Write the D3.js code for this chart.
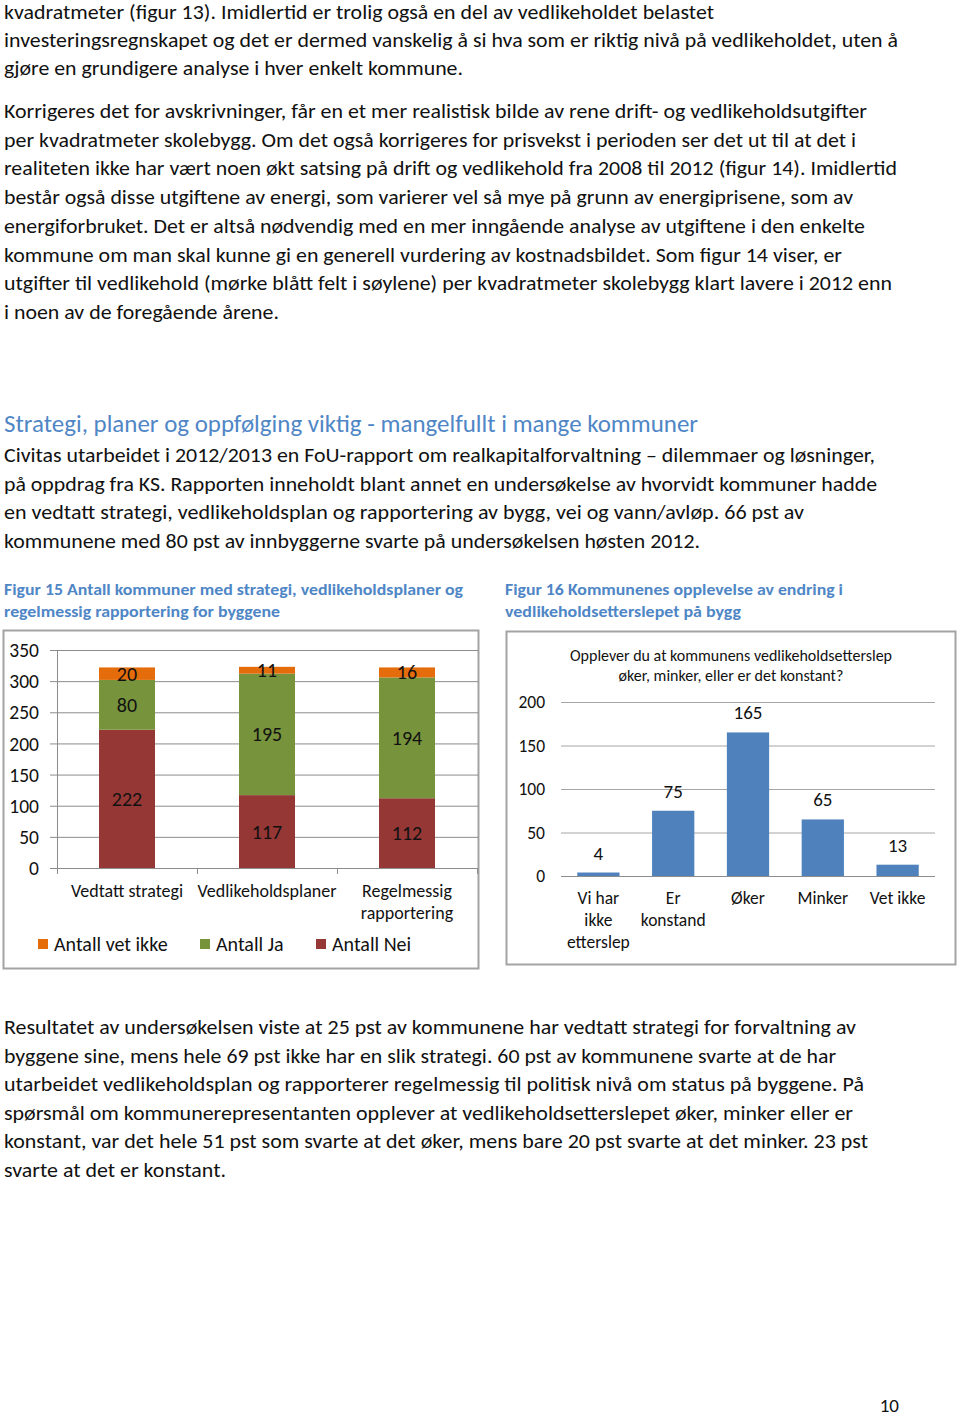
<!DOCTYPE html>
<html>
<head>
<meta charset="utf-8">
<script src="https://cdn.jsdelivr.net/npm/d3@7"></script>
<style>
  html, body { margin: 0; padding: 0; background: #fff; }
  svg { display: block; }
  text { font-family: Carlito, Calibri, Lato, "Open Sans", sans-serif; }
</style>
</head>
<body>
<svg id="page" width="960" height="1418"></svg>
<script>
// ---------------- DATA ----------------
const para1 = [
  "kvadratmeter (figur 13). Imidlertid er trolig også en del av vedlikeholdet belastet",
  "investeringsregnskapet og det er dermed vanskelig å si hva som er riktig nivå på vedlikeholdet, uten å",
  "gjøre en grundigere analyse i hver enkelt kommune."
];
const para2 = [
  "Korrigeres det for avskrivninger, får en et mer realistisk bilde av rene drift- og vedlikeholdsutgifter",
  "per kvadratmeter skolebygg. Om det også korrigeres for prisvekst i perioden ser det ut til at det i",
  "realiteten ikke har vært noen økt satsing på drift og vedlikehold fra 2008 til 2012 (figur 14). Imidlertid",
  "består også disse utgiftene av energi, som varierer vel så mye på grunn av energiprisene, som av",
  "energiforbruket. Det er altså nødvendig med en mer inngående analyse av utgiftene i den enkelte",
  "kommune om man skal kunne gi en generell vurdering av kostnadsbildet. Som figur 14 viser, er",
  "utgifter til vedlikehold (mørke blått felt i søylene) per kvadratmeter skolebygg klart lavere i 2012 enn",
  "i noen av de foregående årene."
];
const heading = "Strategi, planer og oppfølging viktig - mangelfullt i mange kommuner";
const para3 = [
  "Civitas utarbeidet i 2012/2013 en FoU-rapport om realkapitalforvaltning – dilemmaer og løsninger,",
  "på oppdrag fra KS. Rapporten inneholdt blant annet en undersøkelse av hvorvidt kommuner hadde",
  "en vedtatt strategi, vedlikeholdsplan og rapportering av bygg, vei og vann/avløp.  66 pst av",
  "kommunene med 80 pst av innbyggerne svarte på undersøkelsen høsten 2012."
];
const para4 = [
  "Resultatet av undersøkelsen viste at 25 pst av kommunene har vedtatt strategi for forvaltning av",
  "byggene sine, mens hele 69 pst ikke har en slik strategi. 60 pst av kommunene svarte at de har",
  "utarbeidet vedlikeholdsplan og rapporterer regelmessig til politisk nivå om status på byggene.  På",
  "spørsmål om kommunerepresentanten opplever at vedlikeholdsetterslepet øker, minker eller er",
  "konstant, var det hele 51 pst som svarte at det øker, mens bare 20 pst svarte at det minker. 23 pst",
  "svarte at det er konstant."
];
const caption1 = ["Figur 15 Antall kommuner med strategi, vedlikeholdsplaner og", "regelmessig rapportering for byggene"];
const caption2 = ["Figur 16 Kommunenes opplevelse av endring i", "vedlikeholdsetterslepet på bygg"];
const pageNumber = "10";

// Figure 15
const categories1 = ["Vedtatt strategi", "Vedlikeholdsplaner", "Regelmessig rapportering"];
const tickLabels1 = [["Vedtatt strategi"], ["Vedlikeholdsplaner"], ["Regelmessig", "rapportering"]];
const seriesNei = [222, 117, 112];
const seriesJa = [80, 195, 194];
const seriesVetIkke = [20, 11, 16];
const seriesNames1 = ["Antall Nei", "Antall Ja", "Antall vet ikke"];
const legendOrder1 = ["Antall vet ikke", "Antall Ja", "Antall Nei"];
const yTicks1 = [0, 50, 100, 150, 200, 250, 300, 350];

// Figure 16
const title2 = ["Opplever du at kommunens vedlikeholdsetterslep", "øker, minker, eller er det konstant?"];
const categories2 = ["Vi har ikke etterslep", "Er konstand", "Øker", "Minker", "Vet ikke"];
const tickLabels2 = [["Vi har", "ikke", "etterslep"], ["Er", "konstand"], ["Øker"], ["Minker"], ["Vet ikke"]];
const values2 = [4, 75, 165, 65, 13];
const yTicks2 = [0, 50, 100, 150, 200];

// ---------------- LAYOUT / STYLE ----------------
const svg = d3.select("#page");
const TEXT = "#111";
const BLUE_HEAD = "#4F86C6";
const colors1 = { "Antall Nei": "#953735", "Antall Ja": "#77933C", "Antall vet ikke": "#E46C0A" };
const BAR2 = "#4F81BD";

// text block helper: lines fitted to the reference's line widths
function textBlock(lines, startY, step, rightEdges, opts) {
  const g = svg.append("g");
  lines.forEach((ln, i) => {
    const t = g.append("text")
      .attr("x", opts.x)
      .attr("y", startY + i * step)
      .attr("font-size", opts.size)
      .attr("font-weight", opts.weight || "normal")
      .attr("fill", opts.color || TEXT)
      .text(ln);
    const w = rightEdges[i] - opts.x;
    t.attr("textLength", w).attr("lengthAdjust", "spacingAndGlyphs");
  });
}

textBlock(para1, 19, 28, [714, 898, 463], { x: 4, size: 20 });
textBlock(para2, 118, 28.7, [867, 856, 897, 853, 865, 842, 892, 279], { x: 4, size: 20 });
textBlock([heading], 432, 0, [698], { x: 4, size: 25, color: BLUE_HEAD });
textBlock(para3, 462, 28.5, [875, 877, 804, 700], { x: 4, size: 20 });
textBlock(caption1, 595, 21.5, [463, 280], { x: 4, size: 16.5, weight: "bold", color: BLUE_HEAD });
textBlock(caption2, 595, 21.5, [843, 741], { x: 505, size: 16.5, weight: "bold", color: BLUE_HEAD });
textBlock(para4, 1034, 28.6, [856, 836, 864, 853, 868, 226], { x: 4, size: 20 });

svg.append("text").attr("x", 899).attr("y", 1412).attr("text-anchor", "end")
  .attr("font-size", 19).attr("fill", TEXT).text(pageNumber);

// ---------------- FIGURE 15 ----------------
(function () {
  const g = svg.append("g");
  g.append("rect").attr("x", 3.5).attr("y", 630.5).attr("width", 475).attr("height", 338)
    .attr("fill", "#fff").attr("stroke", "#a3a3a3").attr("stroke-width", 2);

  const y = d3.scaleLinear().domain([0, 350]).range([868, 650]);
  const x = d3.scaleBand().domain(categories1).range([57, 477]).padding(0);

  g.append("g").selectAll("line").data(yTicks1).join("line")
    .attr("x1", 50).attr("x2", 478)
    .attr("y1", d => y(d) + 0.5).attr("y2", d => y(d) + 0.5)
    .attr("stroke", "#8c8c8c").attr("stroke-width", 1);

  const yAxis = d3.axisLeft(y).tickValues(yTicks1).tickSize(0).tickPadding(0);
  const ya = g.append("g").attr("transform", "translate(39,0)").call(yAxis);
  ya.select(".domain").remove();
  ya.selectAll("text").attr("font-size", 19.5).attr("fill", TEXT)
    .attr("font-family", "Carlito, Calibri, Lato, sans-serif").attr("dy", "0.34em");
  g.append("line").attr("x1", 57.5).attr("x2", 57.5).attr("y1", y(350)).attr("y2", y(0))
    .attr("stroke", "#8c8c8c");

  const edges = categories1.map(c => x(c)).concat([x(categories1[2]) + x.bandwidth()]);
  g.append("g").selectAll("line").data(edges).join("line")
    .attr("x1", d => d + 0.5).attr("x2", d => d + 0.5).attr("y1", y(0)).attr("y2", y(0) + 6)
    .attr("stroke", "#8c8c8c");

  const rows = categories1.map((c, i) => ({
    cat: c, "Antall Nei": seriesNei[i], "Antall Ja": seriesJa[i], "Antall vet ikke": seriesVetIkke[i]
  }));
  const stacked = d3.stack().keys(seriesNames1)(rows);
  const bw = x.bandwidth() * 0.4;
  stacked.forEach(layer => {
    const lg = g.append("g");
    lg.selectAll("rect").data(layer).join("rect")
      .attr("x", d => x(d.data.cat) + (x.bandwidth() - bw) / 2)
      .attr("width", bw)
      .attr("y", d => y(d[1]))
      .attr("height", d => y(d[0]) - y(d[1]))
      .attr("fill", colors1[layer.key]);
    lg.selectAll("text").data(layer).join("text")
      .attr("x", d => x(d.data.cat) + x.bandwidth() / 2)
      .attr("y", d => (y(d[0]) + y(d[1])) / 2)
      .attr("dy", "0.35em")
      .attr("text-anchor", "middle").attr("font-size", 20).attr("fill", TEXT)
      .text(d => d[1] - d[0]);
  });

  categories1.forEach((c, i) => {
    tickLabels1[i].forEach((ln, j) => {
      g.append("text").attr("x", x(c) + x.bandwidth() / 2).attr("y", 897 + j * 22)
        .attr("text-anchor", "middle").attr("font-size", 18).attr("fill", TEXT).text(ln);
    });
  });

  const legX = [38, 200, 316];
  legendOrder1.forEach((k, i) => {
    g.append("rect").attr("x", legX[i]).attr("y", 939).attr("width", 10).attr("height", 10)
      .attr("fill", colors1[k]);
    g.append("text").attr("x", legX[i] + 16).attr("y", 951).attr("font-size", 20)
      .attr("fill", TEXT).text(k);
  });
})();

// ---------------- FIGURE 16 ----------------
(function () {
  const g = svg.append("g");
  g.append("rect").attr("x", 506.5).attr("y", 631.5).attr("width", 449).attr("height", 333)
    .attr("fill", "#fff").attr("stroke", "#a3a3a3").attr("stroke-width", 2);

  title2.forEach((ln, i) => {
    g.append("text").attr("x", 731).attr("y", 661 + i * 19.5).attr("text-anchor", "middle")
      .attr("font-size", 16).attr("fill", TEXT).text(ln);
  });

  const y = d3.scaleLinear().domain([0, 200]).range([876, 702]);
  const x = d3.scaleBand().domain(categories2).range([561, 935]).padding(0);

  g.append("g").selectAll("line").data(yTicks2).join("line")
    .attr("x1", 561).attr("x2", 935)
    .attr("y1", d => y(d) + 0.5).attr("y2", d => y(d) + 0.5)
    .attr("stroke", d => d === 0 ? "#8c8c8c" : "#a6a6a6").attr("stroke-width", 1);

  const yAxis = d3.axisLeft(y).tickValues(yTicks2).tickSize(0).tickPadding(0);
  const ya = g.append("g").attr("transform", "translate(545,0)").call(yAxis);
  ya.select(".domain").remove();
  ya.selectAll("text").attr("font-size", 17.5).attr("fill", TEXT)
    .attr("font-family", "Carlito, Calibri, Lato, sans-serif").attr("dy", "0.34em");

  const bw = x.bandwidth() * 0.565;
  g.append("g").selectAll("rect").data(values2).join("rect")
    .attr("x", (d, i) => x(categories2[i]) + (x.bandwidth() - bw) / 2)
    .attr("width", bw)
    .attr("y", d => y(d))
    .attr("height", d => y(0) - y(d))
    .attr("fill", BAR2);

  g.append("g").selectAll("text").data(values2).join("text")
    .attr("x", (d, i) => x(categories2[i]) + x.bandwidth() / 2)
    .attr("y", d => y(d) - 13)
    .attr("text-anchor", "middle").attr("font-size", 19).attr("fill", TEXT)
    .text(d => d);

  categories2.forEach((c, i) => {
    tickLabels2[i].forEach((ln, j) => {
      g.append("text").attr("x", x(c) + x.bandwidth() / 2).attr("y", 904 + j * 22)
        .attr("text-anchor", "middle").attr("font-size", 17.5).attr("fill", TEXT).text(ln);
    });
  });
})();
</script>
</body>
</html>
